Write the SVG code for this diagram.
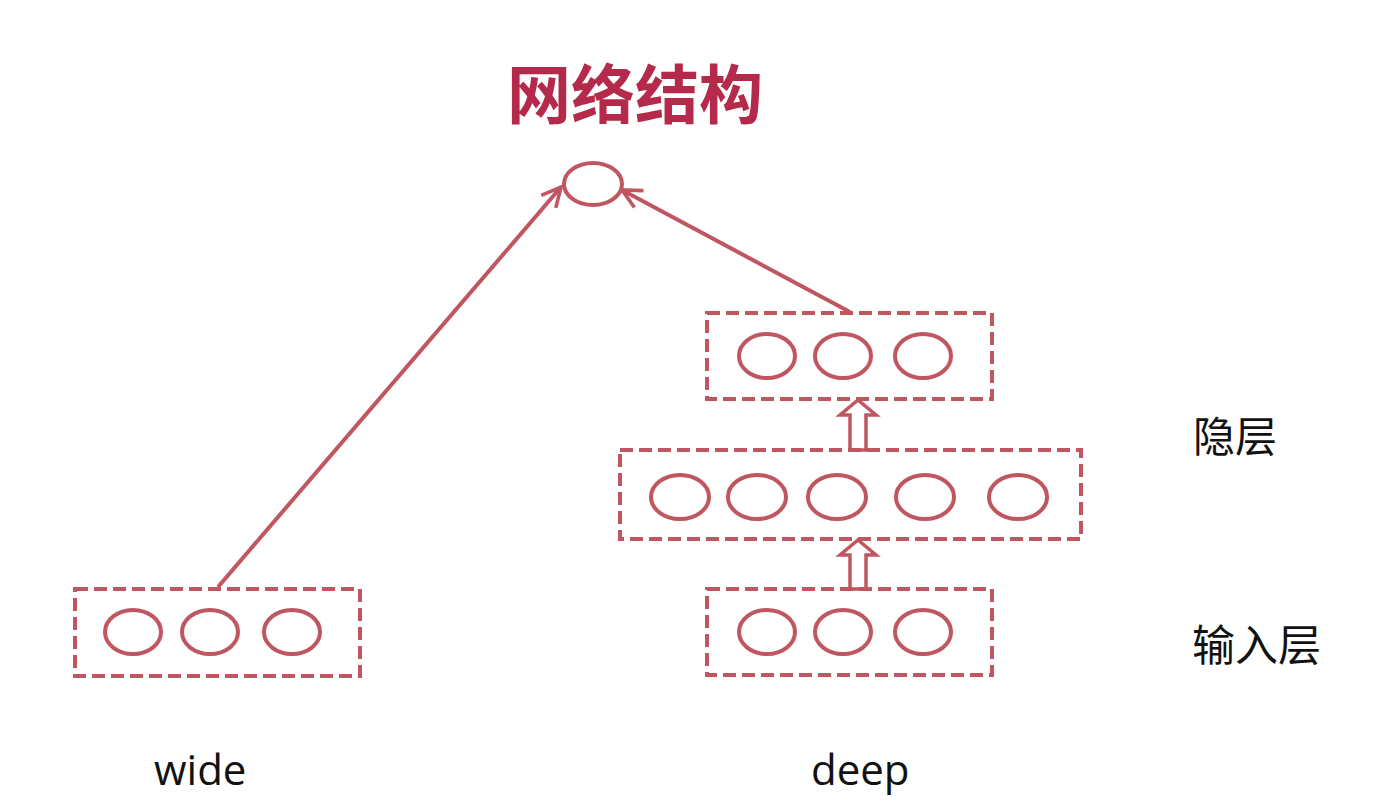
<svg xmlns="http://www.w3.org/2000/svg" width="1390" height="809" viewBox="0 0 1390 809">
<style>
.box{fill:none;stroke:#bf5660;stroke-width:4;stroke-dasharray:13 6}
.nd{fill:none;stroke:#bf5660;stroke-width:4}
.ln{fill:none;stroke:#bf5660;stroke-width:4}
.ha{fill:#fff;stroke:#bf5660;stroke-width:3.5}
.lbl{font-family:"Open Sans","Noto Sans","Noto Sans CJK SC",sans-serif;fill:#111}
.title{font-family:"Noto Sans CJK SC",sans-serif;font-weight:bold;fill:#b52a4b;font-size:64px}
</style>
<defs>
<marker id="open" viewBox="0 0 20 20" refX="18" refY="10" markerWidth="6" markerHeight="6" markerUnits="strokeWidth" orient="auto">
<path d="M2,2 L18,10 L2,18" fill="none" stroke="#bf5660" stroke-width="3"/>
</marker>
</defs>
<rect width="1390" height="809" fill="#fff"/>
<text class="title" x="507" y="118">网络结构</text>
<g id="connectors">
<line class="ln" x1="218" y1="587" x2="561" y2="187" marker-end="url(#open)"/>
<line class="ln" x1="850" y1="312" x2="622" y2="190" marker-end="url(#open)"/>
<path class="ha" d="M850,450 L850,415 L840,415 L858,400 L876,415 L866,415 L866,450 Z"/>
<path class="ha" d="M850,589 L850,555 L840,555 L858,540 L876,555 L866,555 L866,589 Z"/>
</g>
<g id="output">
<ellipse class="nd" cx="593" cy="184" rx="29" ry="21"/>
</g>
<g id="wide">
<rect class="box" x="75" y="589" width="285" height="87"/>
<ellipse class="nd" cx="133" cy="632" rx="28" ry="22"/>
<ellipse class="nd" cx="210" cy="632" rx="28" ry="22"/>
<ellipse class="nd" cx="292" cy="632" rx="28" ry="22"/>
</g>
<g id="deep-input">
<rect class="box" x="707" y="589" width="285" height="86"/>
<ellipse class="nd" cx="767" cy="632" rx="28" ry="22"/>
<ellipse class="nd" cx="843" cy="632" rx="28" ry="22"/>
<ellipse class="nd" cx="923" cy="632" rx="28" ry="22"/>
</g>
<g id="deep-hidden1">
<rect class="box" x="620" y="450" width="461" height="89"/>
<ellipse class="nd" cx="680" cy="497" rx="29" ry="22"/>
<ellipse class="nd" cx="757" cy="497" rx="29" ry="22"/>
<ellipse class="nd" cx="837" cy="497" rx="29" ry="22"/>
<ellipse class="nd" cx="925" cy="497" rx="29" ry="22"/>
<ellipse class="nd" cx="1018" cy="497" rx="29" ry="22"/>
</g>
<g id="deep-hidden2">
<rect class="box" x="707" y="313" width="285" height="86"/>
<ellipse class="nd" cx="767" cy="356" rx="28" ry="22"/>
<ellipse class="nd" cx="843" cy="356" rx="28" ry="22"/>
<ellipse class="nd" cx="923" cy="356" rx="28" ry="22"/>
</g>
<g id="labels">
<text class="lbl" x="1193" y="452" font-size="42">隐层</text>
<text class="lbl" x="1192" y="661" font-size="43">输入层</text>
<text class="lbl" x="154" y="785" font-size="42">wide</text>
<text class="lbl" x="811" y="785" font-size="42">deep</text>
</g>
</svg>
